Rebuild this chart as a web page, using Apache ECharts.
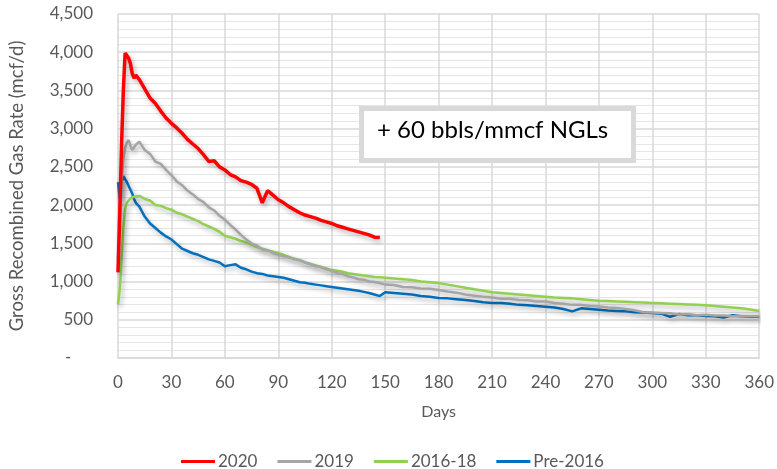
<!DOCTYPE html>
<html>
<head>
<meta charset="utf-8">
<script src="https://cdn.jsdelivr.net/npm/echarts@6/dist/echarts.min.js"></script>
<style>html,body{margin:0;padding:0;background:#fff}#c{width:777px;height:469px}</style>
</head>
<body>
<div id="c"></div>
<script>
var days = [0,1,2,3,4,5,6,7,8,9,10,12,15,18,21,24,27,30,33,36,39,42,45,48,51,54,57,60,63,66,69,72,75,78,81,84,87,90,93,96,99,102,105,108,111,114,117,120,123,126,129,132,135,138,141,144,147,150,155,160,165,170,175,180,185,190,195,200,205,210,215,220,225,230,235,240,245,250,255,260,265,270,275,280,285,290,295,300,305,310,315,320,325,330,335,340,345,350,355,360];

var y2020 = [1120,1900,2800,3500,3990,3970,3920,3850,3720,3660,3700,3640,3520,3400,3330,3230,3140,3070,3010,2940,2860,2800,2740,2660,2570,2580,2500,2460,2400,2370,2320,2300,2270,2220,2030,2190,2130,2070,2030,1980,1940,1900,1870,1850,1830,1800,1780,1760,1730,1710,1690,1670,1650,1630,1610,1580,1575,null];

var y2019 = [1300,1800,2300,2600,2750,2820,2850,2780,2720,2700,2790,2830,2720,2670,2570,2540,2460,2390,2310,2260,2190,2140,2080,2040,1970,1930,1860,1810,1740,1680,1610,1550,1500,1470,1420,1410,1370,1350,1330,1320,1290,1280,1250,1230,1200,1190,1160,1140,1110,1100,1070,1055,1030,1025,1000,995,980,960,955,930,925,910,905,890,870,855,830,815,800,790,775,775,760,755,740,740,720,710,695,695,680,675,660,655,640,625,600,595,590,585,570,575,560,565,555,555,545,550,545,545];

var y2016 = [700,900,1300,1700,1950,2030,2060,2090,2100,2110,2090,2120,2080,2060,2000,1990,1960,1940,1900,1880,1850,1820,1790,1750,1720,1690,1650,1600,1580,1560,1530,1510,1480,1450,1430,1410,1390,1370,1350,1320,1300,1280,1250,1230,1210,1190,1170,1150,1140,1130,1110,1100,1090,1080,1070,1060,1055,1050,1040,1030,1020,1000,990,980,960,940,920,900,880,860,850,840,830,820,810,800,790,785,780,770,760,750,745,740,735,730,725,720,715,710,705,700,695,690,680,670,660,650,635,615];

var yPre = [2300,2080,2300,2380,2390,2300,2250,2200,2150,2080,2030,1980,1850,1760,1700,1640,1590,1550,1490,1430,1400,1370,1350,1320,1290,1270,1250,1200,1215,1225,1180,1160,1130,1110,1100,1080,1070,1060,1050,1030,1010,990,985,970,960,950,940,930,920,910,900,890,880,865,850,830,810,860,850,840,830,810,800,785,780,770,760,745,730,720,720,710,695,690,680,670,660,640,610,650,640,630,620,615,610,600,595,590,580,540,575,560,560,550,545,530,560,545,540,540];

var seriesNames = ['2020','2019','2016-18','Pre-2016'];
var seriesColors = ['#ff0000','#a5a5a5','#92d050','#0070c0'];
var seriesWidths = [3.5,2.5,2.5,2.5];
var seriesValues = [y2020,y2019,y2016,yPre];

function pairs(vals){
  var out = [];
  for (var i=0;i<days.length;i++){ if (vals[i]!=null) out.push([days[i], vals[i]]); }
  return out;
}

var FONT = 'Lato';
var chart = echarts.init(document.getElementById('c'), null, {renderer:'canvas'});
chart.setOption({
  animation:false,
  backgroundColor:'#fff',
  grid:{left:117,right:15,top:14,bottom:111,containLabel:false},
  xAxis:{
    type:'value',min:0,max:360,interval:30,
    name:'Days',nameLocation:'middle',nameGap:46,
    nameTextStyle:{color:'#595959',fontSize:16,fontFamily:FONT},
    axisLine:{show:true,lineStyle:{color:'#d9d9d9',width:1.5}},
    axisTick:{show:false},
    axisLabel:{color:'#595959',fontSize:17,fontFamily:FONT,margin:16},
    splitLine:{show:true,lineStyle:{color:'#d9d9d9',width:1.5}}
  },
  yAxis:{
    type:'value',min:0,max:4500,interval:500,
    name:'Gross Recombined Gas Rate (mcf/d)',nameLocation:'middle',nameGap:91,nameRotate:90,
    nameTextStyle:{color:'#595959',fontSize:18.5,fontFamily:FONT},
    axisLine:{show:false},
    axisTick:{show:false},
    axisLabel:{color:'#595959',fontSize:17,fontFamily:FONT,margin:25,
      formatter:function(v){ return v===0 ? '-     ' : v.toLocaleString('en-US'); }},
    splitLine:{show:true,lineStyle:{color:'#d9d9d9',width:1.5}},
    minorTick:{show:false,splitNumber:5},
    minorSplitLine:{show:true,lineStyle:{color:'#e6e6e6',width:1}}
  },
  legend:{
    left:176,top:448,itemWidth:34,itemHeight:3,itemGap:20,icon:'rect',
    textStyle:{color:'#595959',fontSize:17,fontFamily:FONT,padding:[0,0,0,-2]},
    data:seriesNames
  },
  series:seriesNames.map(function(n,i){
    return {
      name:n,type:'line',data:pairs(seriesValues[i]),
      showSymbol:false,symbol:'none',smooth:false,z:10-i,
      color:seriesColors[i],
      lineStyle:{color:seriesColors[i],width:seriesWidths[i],
        shadowColor:'rgba(0,0,0,0.3)',shadowBlur:5,shadowOffsetX:2,shadowOffsetY:3}
    };
  }),
  graphic:[{
    type:'rect',left:359,top:106,z:100,
    shape:{width:272,height:52},
    style:{fill:'#fff',stroke:'#d9d9d9',lineWidth:5}
  },{
    type:'text',z:101,left:377,top:118,
    style:{text:'+ 60 bbls/mmcf NGLs',fill:'#000',font:'24px Lato'}
  }]
});
</script>
</body>
</html>
